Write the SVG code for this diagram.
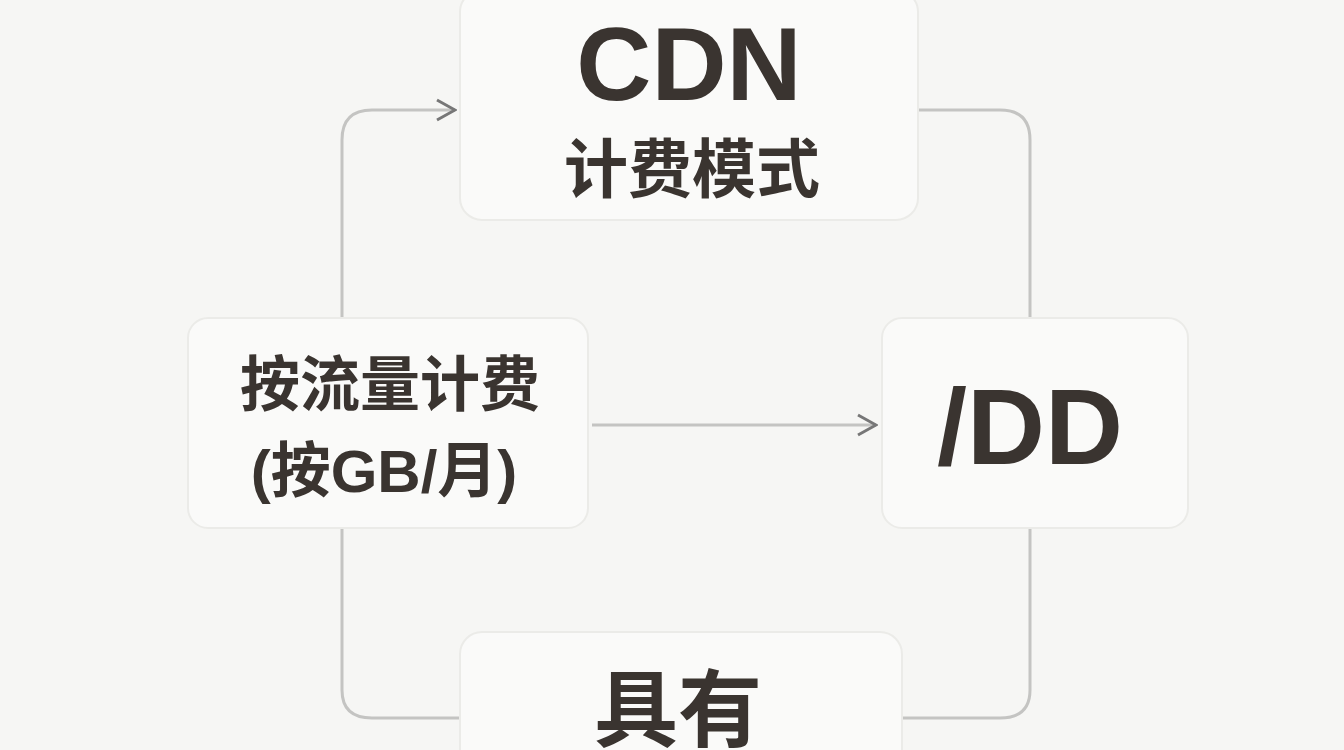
<svg xmlns="http://www.w3.org/2000/svg" width="1344" height="750" viewBox="0 0 1344 750">
<style>
.box{fill:#fafaf9;stroke:#ebebe8;stroke-width:2}
.t{font-family:"Liberation Sans","Noto Sans CJK SC",sans-serif;fill:#3a3430;font-weight:bold;text-anchor:middle}
.c{fill:none;stroke:#c4c4c2;stroke-width:3}
</style>
<defs>
<marker id="b" markerWidth="24" markerHeight="24" refX="22" refY="12" orient="auto" markerUnits="userSpaceOnUse"><path d="M4,2 L22,12 L4,22" fill="none" stroke="#777" stroke-width="3"/></marker></defs>
<rect width="1344" height="750" fill="#f6f6f4"/>
<g id="connectors">
<path class="c" d="M342,318 V140 Q342,110 372,110 H455" marker-end="url(#b)"/>
<path class="c" d="M918,110 H1000 Q1030,110 1030,140 V318"/>
<path class="c" d="M592,425 H876" stroke="#888" marker-end="url(#b)"/>
<path class="c" d="M1030,528 V690 Q1030,718 1000,718 H902"/>
<path class="c" d="M342,528 V690 Q342,718 372,718 H460"/>
</g>
<g id="top"><rect class="box" x="460" y="-10" width="458" height="230" rx="22"/>
<text class="t" x="689" y="100" font-size="104">CDN</text>
<text class="t" x="692" y="192" font-size="64">计费模式</text></g>
<g id="left"><rect class="box" x="188" y="318" width="400" height="210" rx="20"/>
<text class="t" x="390" y="406" font-size="60">按流量计费</text>
<text class="t" x="384" y="492" font-size="60">(按GB/月)</text></g>
<g id="right"><rect class="box" x="882" y="318" width="306" height="210" rx="20"/>
<text class="t" x="1030" y="464" font-size="108">/DD</text></g>
<g id="bottom"><rect class="box" x="460" y="632" width="442" height="140" rx="22"/>
<text class="t" x="678" y="740" font-size="84">具有</text></g>
</svg>
